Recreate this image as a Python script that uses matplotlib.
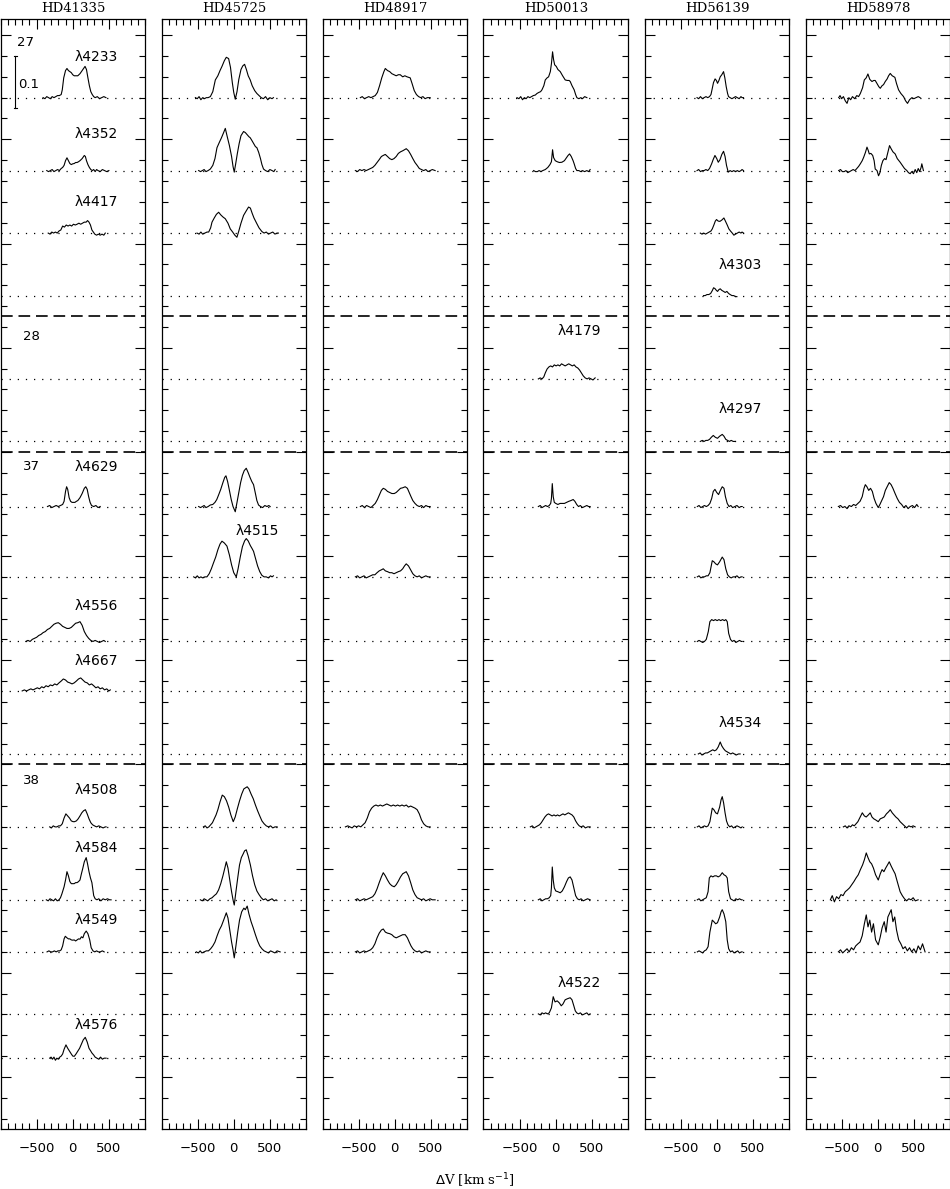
import matplotlib
matplotlib.use("Agg")
import matplotlib.pyplot as plt
from matplotlib.ticker import MultipleLocator

# ---- data: velocity (km/s) and line height above continuum (% of continuum) ----
stars = ["HD41335", "HD45725", "HD48917", "HD50013", "HD56139", "HD58978"]

# rows: line, multiplet group, baseline offset
row_lines = ["4233", "4352", "4417", "4303", "4179", "4297", "4629", "4515",
             "4556", "4667", "4534", "4508", "4584", "4549", "4522", "4576"]
row_base = [1.88, 1.74, 1.62, 1.50, 1.34, 1.22, 1.095, 0.96,
            0.836, 0.741, 0.62, 0.48, 0.34, 0.24, 0.121, 0.036]
group_names = ["27", "28", "37", "38"]
group_sep = [1.46, 1.20, 0.60]

hd41335 = {
    "4233": ([-410,-385,-360,-335,-310,-285,-260,-235,-210,-185,-160,-145,-125,-100,-80,-60,-40,-20,0,20,40,70,100,130,150,170,190,210,230,250,270,290,310,340,370,400,430,460],
             [0,-0.2,0.2,0,-0.2,0.2,0,0.2,0.4,0.4,0.6,1.5,3.8,5.2,5.6,5.2,5.0,4.8,4.4,4.2,4.2,4.2,4.6,5.2,5.6,6.0,5.4,3.8,2.3,1.15,0.6,0.2,0,0.2,-0.2,0,0.2,0]),
    "4352": ([-360,-335,-310,-285,-260,-235,-210,-185,-160,-140,-120,-100,-80,-60,-40,-20,0,20,40,60,80,100,130,160,175,190,210,230,250,270,290,310,330,350,380,410,440,470,500],
             [0,-0.2,0,0.2,-0.2,0,0.2,0,0.4,0.6,1.0,1.9,2.45,1.9,1.35,1.15,1.3,1.35,1.55,1.55,1.7,1.9,2.3,2.9,2.7,1.9,1.15,0.6,0.2,0,0.2,-0.2,0.2,0,-0.2,0.2,0,-0.2,0]),
    "4417": ([-340,-315,-290,-265,-240,-215,-190,-165,-140,-115,-90,-65,-40,-15,10,35,60,85,110,135,160,185,205,225,245,265,285,305,330,355,380,405,430,450],
             [0,-0.2,0.2,0,0.2,0,0.4,0.6,1.35,1.15,1.55,1.35,1.55,1.35,1.7,1.55,1.7,1.9,1.7,1.9,2.1,2.1,2.4,2.1,1.55,0.6,0.2,-0.2,-0.4,-0.2,-0.4,-0.2,-0.4,0]),
    "4629": ([-350,-320,-290,-260,-230,-200,-170,-140,-120,-100,-85,-70,-50,-30,-10,10,30,50,70,100,130,160,180,200,220,240,260,290,320,350,380],
             [0,0.2,-0.2,0,0.2,0,0.2,0.4,1.0,2.9,3.8,3.3,1.7,1.0,0.8,0.8,0.8,1.0,1.15,1.7,2.5,3.5,3.8,3.3,1.9,0.8,0.2,0,0.2,-0.2,0]),
    "4556": ([-650,-620,-590,-560,-530,-500,-470,-440,-410,-380,-350,-320,-290,-260,-230,-200,-170,-140,-110,-80,-50,-20,10,40,70,100,130,160,190,220,250,280,310,340,370,400,430,450],
             [0,0.2,0,0.4,0.6,0.8,1.15,1.35,1.7,1.9,2.3,2.5,2.9,3.3,3.5,3.6,3.3,2.9,2.7,2.5,2.5,2.7,3.1,3.5,3.6,3.8,3.1,1.9,1.15,0.6,0.2,0,0.2,0,-0.2,0,0.2,0]),
    "4667": ([-700,-670,-640,-610,-580,-550,-520,-490,-460,-430,-400,-370,-340,-310,-280,-250,-220,-190,-160,-130,-100,-70,-40,-10,20,50,80,110,140,170,200,230,260,290,320,350,380,410,440,470,500,520],
             [0,0.2,0,0.2,0.4,0.2,0.4,0.6,0.4,0.8,0.6,1.0,0.8,1.15,1.0,1.35,1.15,1.55,1.9,2.3,2.1,1.7,1.55,1.35,1.55,1.9,2.3,2.5,2.1,1.7,1.55,1.15,1.35,1.0,0.6,0.8,0.4,0.6,0.2,0.4,0,0.2]),
    "4508": ([-320,-295,-270,-245,-220,-195,-170,-145,-120,-95,-70,-45,-20,5,25,50,75,100,125,150,175,200,225,250,275,300,330,360,390,420,450,462],
             [0,-0.2,0.2,0,0,0.2,0.2,0.6,1.7,2.5,2.1,1.7,1.15,1.0,1.0,1.15,1.55,2.1,2.7,3.1,3.3,2.5,1.55,0.8,0.4,0.2,0,0.2,0,-0.2,0,0]),
    "4584": ([-366,-340,-315,-290,-265,-240,-215,-190,-170,-150,-120,-100,-80,-60,-40,-20,0,20,40,60,80,100,120,140,160,186,205,225,245,265,290,310,335,360,390,420,450,480,510,531],
             [0,-0.2,0.2,0,-0.2,0.2,-0.2,0,0.4,1.15,2.5,3.8,5.4,4.6,3.5,3.1,3.1,3.1,3.3,3.3,3.5,3.8,5.0,6.1,7.3,8.1,6.9,5.4,4.2,3.3,0.8,0.2,0,0.2,-0.2,0.2,0,0.2,0,0]),
    "4549": ([-356,-330,-305,-280,-255,-230,-205,-180,-160,-140,-120,-103,-80,-60,-40,-20,0,20,40,60,80,100,120,140,160,186,210,235,255,280,305,330,355,380,410,435],
             [0,0.2,0,0,0.2,0,0.2,0.2,0.4,1.15,2.5,3.0,2.7,2.5,2.5,2.3,2.25,2.3,2.1,2.3,2.5,2.45,2.9,2.7,3.5,4.0,3.5,2.3,0.8,0.2,0,0.2,0,0,0.2,0]),
    "4576": ([-320,-300,-280,-260,-240,-220,-200,-180,-160,-140,-120,-94,-70,-45,-20,0,21,45,70,95,120,145,173,200,225,250,265,290,310,334,360,385,410,435,462],
             [0,0.2,-0.2,0.2,-0.4,0,-0.2,0.2,0.4,0.8,1.7,2.55,1.9,1.35,0.8,0.4,0.35,0.8,1.35,1.9,2.7,3.5,4.0,3.1,1.9,1.35,1.0,0.6,0.2,0,-0.2,0.2,-0.2,0,0]),
}

hd45725 = {
    "4233": ([-531,-505,-480,-455,-430,-405,-380,-355,-324,-290,-255,-220,-190,-163,-130,-103,-71,-45,-20,0,21,45,70,100,125,150,175,200,228,255,290,320,350,380,410,440,470,500,530,549],
             [0,-0.2,0.2,-0.4,0,-0.2,0,0,0.2,1.15,3.4,4.2,5.2,6.0,7.1,7.75,7.5,5.8,2.9,1.0,-0.3,1.15,3.5,5.4,6.1,6.4,5.4,4.2,3.4,2.3,1.35,0.8,0.4,0,-0.2,0.2,-0.4,0,-0.2,0]),
    "4352": ([-486,-460,-435,-410,-385,-355,-324,-290,-260,-232,-200,-170,-140,-117,-90,-60,-30,-10,7,25,50,75,100,136,160,185,210,228,250,275,300,320,345,370,390,412,440,470,500,530,555,573],
             [0,-0.2,0,0.2,-0.2,0,0.3,1.0,2.3,4.4,5.4,6.3,7.3,8.1,6.5,4.8,2.7,0.8,-0.3,1.15,3.3,5.2,6.7,7.5,7.3,6.9,6.5,6.3,5.8,5.2,4.6,4.4,3.5,2.3,1.15,0.3,0,-0.2,0.2,0,-0.2,0.2]),
    "4417": ([-508,-480,-455,-430,-400,-370,-347,-320,-301,-270,-240,-209,-180,-150,-117,-80,-48,-15,15,44,70,100,136,170,205,230,255,280,320,350,389,420,450,480,510,540,570,600,618],
             [0,-0.2,0.2,-0.2,0,0.2,0.2,1.0,2.1,2.9,3.6,4.0,3.5,3.1,2.75,1.9,0.8,0.2,-0.4,-0.8,0.4,1.9,3.4,4.2,5.0,4.8,3.8,2.9,1.8,1.0,0.3,0,0.2,-0.2,0,0.2,-0.2,0,0]),
    "4629": ([-486,-460,-435,-410,-385,-355,-324,-290,-260,-235,-209,-180,-150,-125,-108,-85,-60,-35,-10,21,45,70,95,120,145,173,200,225,250,274,300,320,343,370,400,430,460,485,504],
             [0,-0.2,0,0.2,-0.2,0,0.3,0.4,0.8,1.35,2.25,3.3,4.6,5.6,5.9,4.8,3.1,1.35,0,-1.0,0.8,2.7,4.6,6.0,6.9,7.35,6.5,5.6,4.8,4.2,2.5,1.15,0.3,0,-0.2,0.2,0,0.2,0]),
    "4515": ([-555,-530,-505,-480,-455,-430,-400,-371,-340,-310,-280,-250,-220,-190,-163,-130,-94,-60,-30,0,35,60,90,120,150,173,200,230,255,274,300,330,360,389,420,450,480,510,530,549],
             [0,-0.2,0.2,-0.2,0,-0.2,0,0,0.6,1.55,2.7,3.8,5.2,6.3,6.85,6.5,5.9,4.2,2.3,0.8,0,1.55,3.8,5.8,6.9,7.35,6.9,6.0,5.4,4.9,3.6,2.1,1.0,0.3,0,0,-0.2,0.2,0,0.2]),
    "4508": ([-420,-395,-370,-345,-320,-295,-270,-245,-220,-190,-159,-130,-100,-70,-40,-7,20,50,80,110,140,186,210,240,270,300,330,360,390,420,450,480,510,540,570,600],
             [0,0.2,-0.2,0,0.4,0.8,1.55,2.3,3.3,4.8,6.1,5.8,5.0,3.8,2.3,1.0,1.9,3.5,5.0,6.3,7.3,7.7,7.3,6.3,5.4,4.2,3.1,2.1,1.15,0.6,0.2,0,0.2,-0.2,0,0]),
    "4584": ([-462,-435,-410,-385,-360,-330,-300,-270,-240,-210,-180,-150,-120,-103,-80,-55,-30,-10,7,30,55,80,105,130,150,173,200,230,260,290,320,350,380,410,440,470,500,530,560,586],
             [0,-0.2,0.2,0,-0.2,0.2,0.4,0.8,1.15,1.9,3.1,4.6,6.3,7.3,6.1,3.8,1.55,0,-1.0,1.55,4.2,6.7,8.1,8.8,9.4,9.6,8.4,6.7,4.6,2.9,1.7,1.0,0.4,0,0.2,-0.2,0,0.2,-0.2,0]),
    "4549": ([-517,-490,-465,-440,-410,-380,-350,-320,-290,-260,-230,-200,-170,-140,-103,-80,-55,-30,-10,7,30,55,80,110,140,160,186,210,240,270,300,330,360,390,420,450,480,510,540,570,600,642],
             [0,-0.2,0.2,-0.2,0,0.2,0.2,0.6,1.15,1.9,3.1,4.2,5.0,6.1,7.5,6.5,4.2,1.9,0.4,-1.15,1.15,3.8,6.1,7.7,8.4,8.1,8.8,7.3,5.8,4.6,3.3,2.1,1.15,0.6,0.2,0,-0.2,0.2,0,-0.2,0.2,0]),
}

hd48917 = {
    "4233": ([-476,-450,-420,-390,-360,-330,-300,-270,-240,-210,-180,-150,-131,-100,-70,-40,-10,20,50,76,110,140,170,214,240,270,300,330,360,390,420,450,490],
             [0,0.2,-0.2,0,0.2,0,0.2,0.4,1.0,2.3,3.8,5.0,5.6,5.2,5.0,4.6,4.4,4.2,4.4,4.4,4.0,4.2,4.0,3.8,2.7,1.35,0.6,0.2,0,0.2,-0.2,0,0]),
    "4352": ([-545,-515,-485,-455,-425,-395,-365,-335,-305,-275,-245,-215,-185,-160,-131,-100,-70,-40,-10,20,50,80,110,135,159,190,220,250,280,310,340,370,400,430,460,490,520,559],
             [0,-0.2,0.2,0,0.2,0,0.2,0.4,0.6,1.0,1.55,2.1,2.7,2.9,3.1,2.7,2.3,2.1,2.3,2.7,3.3,3.6,3.8,4.0,4.2,3.8,3.1,2.3,1.55,1.0,0.4,0.2,0,0.2,-0.2,0,0.2,0]),
    "4629": ([-476,-450,-420,-390,-360,-330,-300,-270,-240,-210,-185,-159,-130,-100,-70,-40,-7,20,50,80,110,145,175,200,225,250,280,310,340,370,400,430,460,490],
             [0,0.2,-0.2,0.2,0,-0.2,0.2,0.6,1.35,2.3,3.1,3.5,3.3,2.9,2.7,2.5,2.5,2.7,3.1,3.5,3.6,3.8,3.5,2.7,1.9,1.15,0.6,0.2,0,0.2,-0.2,0.2,0,0]),
    "4515": ([-545,-515,-485,-455,-425,-395,-365,-335,-305,-275,-245,-215,-185,-159,-130,-100,-70,-40,-10,20,50,80,110,135,159,190,220,250,280,310,340,370,400,430,460,490],
             [0,0.2,-0.2,0,0.2,-0.2,0,0.2,0.4,0.4,0.8,1.15,1.35,1.55,1.15,1.0,0.8,0.8,0.6,0.8,1.0,1.15,1.55,2.1,2.5,2.1,1.35,0.6,0.2,0,0.2,-0.2,0,0.2,0,0]),
    "4508": ([-683,-650,-620,-590,-560,-530,-500,-470,-440,-410,-380,-350,-320,-290,-260,-230,-200,-170,-140,-110,-80,-50,-20,10,40,70,100,130,160,190,220,250,280,310,340,370,400,430,460,490],
             [0,0.2,0,-0.2,0.2,0,0.2,0,0.4,0.8,1.7,2.9,3.6,4.0,4.2,4.0,4.2,4.0,4.2,4.4,4.2,4.0,4.2,4.0,4.2,4.0,4.2,4.0,4.2,3.8,4.0,3.8,3.6,3.3,2.5,1.35,0.6,0.2,0,0]),
    "4584": ([-545,-515,-485,-455,-425,-395,-365,-335,-305,-275,-245,-215,-185,-159,-130,-100,-70,-40,-7,20,50,80,110,135,159,190,220,250,280,310,340,370,400,430,460,490,520,559],
             [0,0.2,-0.2,0,0.2,0,0.2,0.4,0.6,1.15,2.1,3.3,4.4,5.2,4.6,3.8,3.1,2.7,2.5,2.9,3.6,4.4,5.0,5.2,5.4,4.6,3.3,1.9,1.0,0.4,0.2,0,0.2,-0.2,0,0.2,0,0]),
    "4549": ([-545,-515,-485,-455,-425,-395,-365,-335,-305,-275,-245,-215,-185,-159,-130,-100,-70,-40,-10,20,50,80,110,145,175,200,225,250,280,310,340,370,400,430,460,490],
             [0,0.2,-0.2,0,0.2,0,0.2,0.4,0.8,1.55,2.7,3.6,4.2,4.4,3.8,3.6,3.5,3.3,2.9,2.7,2.9,3.1,3.3,3.3,2.7,1.9,1.15,0.6,0.2,0,0.2,-0.2,0,0.2,0,0]),
}

hd50013 = {
    "4233": ([-536,-510,-485,-460,-435,-410,-385,-360,-335,-310,-283,-260,-235,-210,-191,-165,-145,-120,-99,-75,-60,-44,-30,-15,7,30,62,95,131,160,185,200,225,255,275,292,320,345,370,400,431],
             [0,-0.2,0.2,-0.4,0,-0.2,0.2,0,0.2,0.4,0.5,0.8,1.0,1.15,1.5,2.3,3.4,3.8,4.0,5.0,6.5,8.8,7.3,6.3,6.0,5.4,5.0,4.2,3.4,3.3,3.3,3.1,2.3,1.5,0.6,0,-0.2,0,-0.2,0.2,0]),
    "4352": ([-306,-280,-255,-230,-205,-180,-145,-110,-80,-60,-44,-30,-7,20,50,85,120,150,170,191,215,240,255,275,292,320,345,370,400,430,455,476],
             [0,-0.2,-0.2,0,-0.2,0,0.2,0.6,1.15,1.7,4.0,2.5,1.9,1.7,1.55,1.6,1.9,2.5,2.9,3.2,2.7,1.9,1.3,0.4,0,0,-0.2,0,-0.2,0,-0.2,0.2]),
    "4179": ([-241,-215,-190,-165,-145,-120,-95,-70,-45,-20,5,30,55,80,105,130,155,180,205,230,255,280,305,330,355,380,407,435,460,490,515,545],
             [0,0.2,0,0.4,1.15,1.9,2.3,2.5,2.3,2.7,2.5,2.7,2.5,2.9,2.7,2.5,2.7,2.9,2.7,2.5,2.7,2.3,2.1,1.7,1.15,0.6,0.2,0,0.2,0,-0.2,0.2]),
    "4629": ([-241,-215,-190,-165,-140,-115,-90,-70,-60,-48,-35,-20,0,30,60,90,120,150,180,210,241,265,290,315,340,370,400,430,455,476],
             [0,0.2,-0.2,0,0.2,0,0.2,0.6,1.55,4.4,1.9,0.8,0.6,0.4,0.6,0.6,0.6,0.8,1.0,1.15,1.35,1.0,0.4,0,0.2,-0.2,0,0.2,0,0]),
    "4508": ([-352,-325,-300,-275,-250,-225,-200,-175,-150,-125,-100,-75,-50,-25,0,25,50,75,100,125,150,175,200,225,250,275,300,325,350,380,410,440,476],
             [0,0.2,-0.2,0,0.2,0.4,0.8,1.35,1.9,2.3,2.5,2.3,2.1,2.3,2.1,2.3,2.1,2.3,2.5,2.3,2.5,2.7,2.5,2.3,1.9,1.15,0.6,0.2,0,0.2,-0.2,0,0]),
    "4584": ([-241,-215,-190,-165,-140,-115,-90,-70,-60,-48,-35,-20,0,30,62,90,120,150,175,200,225,250,275,300,325,350,380,410,440,476],
             [0,0.2,-0.2,0,0.2,0.2,0.4,0.8,2.3,6.3,3.8,2.3,1.7,1.55,1.35,1.7,2.5,3.5,4.2,4.4,3.8,2.3,0.8,0.2,0,0.2,-0.2,0,0.2,0]),
    "4522": ([-241,-215,-190,-165,-140,-115,-90,-60,-35,-10,20,50,76,100,130,160,200,225,250,270,290,315,340,370,400,430,455,476],
             [0,-0.2,0.2,0,0.2,0,0.2,1.15,3.3,2.3,2.5,2.1,1.55,1.9,2.7,2.9,3.1,2.7,1.55,0.6,0.2,0,0.2,-0.2,0,0.2,-0.2,0]),
}

hd56139 = {
    "4233": ([-273,-250,-225,-200,-175,-149,-125,-100,-80,-66,-45,-23,-5,11,30,48,70,94,112,131,150,163,185,210,235,260,285,310,335,350,370],
             [0,-0.2,0.2,-0.2,0,0.2,0,0.2,0.6,1.5,2.9,3.6,3.3,2.75,3.3,4.0,4.4,5.0,3.8,2.1,0.8,0.2,0,-0.2,0,0.2,0,-0.2,0.2,0,0]),
    "4352": ([-273,-250,-225,-200,-175,-150,-125,-100,-71,-50,-25,0,21,45,70,94,115,135,159,185,210,235,260,285,310,335,350,370],
             [0,0.2,-0.2,0,0,0.2,0,0.4,1.3,2.1,2.9,2.3,1.6,2.1,3.1,3.7,2.7,1.0,-0.3,0,-0.2,0,-0.2,0,-0.2,0,0.2,0]),
    "4417": ([-228,-205,-180,-155,-130,-105,-80,-62,-40,-20,-3,20,44,70,99,120,145,168,190,215,237,260,285,310,335,350,370],
             [0,-0.2,0,-0.2,0,0.2,0.4,0.8,1.55,2.3,2.6,2.3,2.25,2.5,2.9,2.3,1.55,0.8,0.4,0,-0.4,-0.2,0,0.2,0,0.2,0]),
    "4303": ([-182,-160,-135,-110,-85,-60,-44,-25,-5,11,30,48,70,95,117,140,165,186,210,235,260,279],
             [0,0,0.2,0.2,0.4,1.0,1.5,1.35,1.0,0.8,1.15,1.3,1.0,0.8,0.6,0.8,0.4,0.2,0,0,-0.2,-0.2]),
    "4297": ([-228,-200,-175,-150,-125,-100,-75,-48,-20,10,40,76,100,125,150,175,200,228,255],
             [0,0.2,0,0.2,0.2,0.4,0.8,1.15,0.8,0.6,1.0,1.35,1.0,0.4,0.2,0,0.2,0,0]),
    "4629": ([-269,-245,-220,-195,-170,-145,-120,-95,-70,-48,-25,0,25,50,76,100,120,145,170,195,220,250,280,310,335,352],
             [0,0.2,-0.2,0,0.2,0,0.2,0.6,1.55,2.9,3.3,2.7,2.3,3.1,3.8,3.5,1.9,0.6,0,0.2,-0.2,0,0.2,-0.2,0,0]),
    "4515": ([-269,-245,-220,-195,-170,-145,-120,-95,-62,-40,-15,10,40,76,100,125,150,175,200,225,255,280,310,335,352],
             [0,0.2,-0.2,0,0,0.2,0.2,0.8,3.1,2.9,2.5,2.3,2.9,3.8,3.3,1.55,0.4,0,-0.2,0,0,0.2,-0.2,0,0]),
    "4556": ([-269,-245,-220,-195,-170,-145,-117,-95,-70,-45,-20,5,30,55,80,105,125,145,165,190,215,240,265,290,315,340,352],
             [0,0.2,0,-0.2,0,0.4,1.9,3.8,4.2,4.0,4.2,4.0,4.2,4.0,4.2,4.0,4.2,3.8,1.55,0.4,0,0.2,-0.2,0,0.2,0,0]),
    "4534": ([-255,-230,-205,-180,-155,-130,-105,-80,-55,-30,-5,20,48,70,95,120,145,170,195,220,245,270,300,324],
             [0,0.2,-0.2,0,0.2,0.2,0.4,0.6,0.8,0.6,0.8,1.35,2.3,1.55,1.0,0.6,0.4,0.2,0,0.2,0,-0.2,0,0]),
    "4508": ([-269,-245,-220,-195,-170,-145,-120,-95,-62,-40,-15,10,40,60,76,95,115,135,155,180,205,230,255,280,310,335,352],
             [0,0.2,-0.2,0,0.2,0,0.2,1.0,3.6,3.3,2.7,2.5,3.8,5.2,5.8,4.6,2.7,1.15,0.4,0,0.2,-0.2,0,0.2,0,-0.2,0]),
    "4584": ([-269,-245,-220,-195,-170,-145,-120,-103,-80,-55,-30,-5,20,45,76,100,125,145,165,190,215,240,265,290,315,340,352],
             [0,0.2,-0.2,0,0.2,0.4,1.55,4.2,4.6,4.4,4.6,4.6,4.4,4.6,5.2,4.8,4.6,4.2,1.55,0.2,0,-0.2,0.2,0,0.2,0,0]),
    "4549": ([-269,-245,-220,-195,-170,-145,-120,-95,-62,-40,-15,10,40,60,76,100,125,145,165,190,215,240,265,290,315,340,352],
             [0,0.2,0,-0.2,0.2,0.4,1.0,3.8,6.1,5.8,5.4,5.6,6.7,7.7,8.1,7.3,5.8,2.3,0.6,0,0.2,-0.2,0,0.2,-0.2,0,0]),
}

hd58978 = {
    "4233": ([-541,-522,-500,-475,-450,-425,-400,-375,-350,-320,-290,-265,-241,-210,-186,-160,-136,-110,-80,-55,-35,-10,15,35,60,80,104,130,150,173,200,237,260,288,320,357,385,412,440,472,500,530,560,586],
             [0,0.4,-0.2,0.2,-0.6,-1.1,0,-0.4,0.2,-0.2,0.4,0.2,0.8,1.9,3.4,3.8,4.55,3.5,3.1,3.3,3.3,2.7,2.1,1.8,2.3,2.5,3.1,3.6,4.2,4.65,4.2,3.9,2.7,1.5,0.8,0.2,-0.6,-1.1,-0.4,0,-0.2,0,0.2,0]),
    "4352": ([-541,-515,-490,-465,-440,-415,-390,-365,-340,-315,-290,-265,-241,-215,-195,-170,-149,-130,-117,-95,-70,-50,-35,-10,11,30,50,71,95,115,140,163,185,210,241,270,310,340,370,403,425,449,470,495,518,540,560,580,600,610,632],
             [0,0.2,-0.2,-0.2,0,-0.4,-0.2,0,0.2,0,0.4,0.8,1.3,1.9,2.55,3.5,4.5,3.8,3.2,3.3,2.9,1.9,0.3,0,-1.0,-0.4,1.0,1.9,2.3,2.1,3.5,4.8,4.2,3.6,3.2,2.3,1.6,1.0,0.4,0,-0.4,-0.6,-0.2,-0.6,0.2,-0.4,0.4,-0.2,0.6,1.3,0]),
    "4629": ([-545,-515,-485,-455,-425,-395,-365,-335,-305,-275,-245,-215,-190,-172,-150,-125,-100,-75,-50,-25,7,30,55,80,105,130,159,185,210,240,270,300,330,360,390,420,450,480,510,540,559],
             [0,0.2,-0.2,0,-0.4,0.2,0,0.4,0.2,0.6,1.0,1.9,3.5,4.2,3.8,3.1,3.5,2.9,1.55,0.6,-0.2,0.4,1.15,1.9,3.1,3.8,4.6,4.2,3.5,2.5,1.55,0.8,0.4,-0.2,0.2,-0.4,0,0.2,-0.2,0.4,0]),
    "4508": ([-476,-450,-425,-400,-375,-350,-325,-300,-275,-250,-214,-185,-160,-130,-104,-80,-55,-30,7,35,60,90,120,150,173,200,225,250,280,310,340,370,400,430,460,490,518],
             [0,0.2,-0.2,0.2,0,0.4,0.2,0.6,1.0,1.7,2.7,2.1,1.9,2.3,2.7,1.9,1.55,1.35,1.0,1.55,1.7,1.9,2.5,2.9,3.3,2.7,2.3,1.9,1.55,1.0,0.6,0.2,-0.2,0.2,0,0.2,0]),
    "4584": ([-656,-630,-600,-570,-540,-510,-480,-450,-420,-390,-360,-330,-300,-270,-240,-210,-185,-159,-135,-110,-85,-60,-30,7,35,60,85,110,135,159,185,210,240,270,310,340,370,400,430,460,490,520,559],
             [0,0.8,-0.4,0.6,0.2,1.0,0.8,1.55,1.9,2.3,2.9,3.5,4.2,4.8,5.8,6.7,7.7,9.0,8.1,7.3,6.9,6.1,4.8,3.8,5.0,5.8,5.4,6.1,6.7,7.3,6.5,5.8,5.0,3.5,1.55,0.8,0.2,-0.2,0.2,0,0.4,-0.2,0]),
    "4549": ([-545,-515,-485,-455,-425,-395,-365,-335,-305,-275,-245,-215,-185,-159,-135,-110,-85,-60,-30,7,35,60,90,115,140,160,186,210,235,260,290,320,350,380,410,440,470,500,530,560,590,620,655],
             [0,0.4,-0.2,0.2,0.6,0,0.8,0.4,1.15,1.55,1.9,3.1,5.4,7.1,4.8,6.1,3.8,5.4,2.3,1.35,2.9,4.6,5.8,3.8,6.7,7.3,8.1,5.8,6.7,4.2,2.3,1.55,0.6,1.0,0.2,0.8,0,0.6,-0.2,1.15,0.4,1.55,0]),
}

star_data = [hd41335, hd45725, hd48917, hd50013, hd56139, hd58978]

# line labels: (panel index, line, label height)
labels = [(0, "4233", 1.959), (0, "4352", 1.811), (0, "4417", 1.680), (4, "4303", 1.559),
          (3, "4179", 1.432), (4, "4297", 1.282), (0, "4629", 1.171), (1, "4515", 1.049),
          (0, "4556", 0.904), (0, "4667", 0.798), (4, "4534", 0.679), (0, "4508", 0.550),
          (0, "4584", 0.439), (0, "4549", 0.301), (3, "4522", 0.180), (0, "4576", 0.100)]
group_pos = [(-766, 1.985), (-692, 1.421), (-692, 1.172), (-692, 0.570)]

# ---- figure ----
W, H = 950, 1189
fig = plt.figure(figsize=(W / 100, H / 100), dpi=100)
plt.rcParams['font.family'] = 'DejaVu Sans'

top_px, bot_px = 19, 1129
for i, star in enumerate(stars):
    left = (0.5 + 161 * i) / W
    ax = fig.add_axes([left, (H - bot_px) / H, 144.5 / W, (bot_px - top_px) / H])
    ax.set_xlim(-1000, 1000)
    ax.set_ylim(-0.1, 2.031)

    for b in row_base:
        ax.axhline(b, color='black', lw=0.9, dashes=(1, 5.5))
    for s in group_sep:
        ax.axhline(s, color='black', lw=1.2, dashes=(7, 3.5))

    base = dict(zip(row_lines, row_base))
    for line, (v, h) in star_data[i].items():
        ax.plot(v, [base[line] + x / 100.0 for x in h], color='black', lw=0.8)

    for (p, line, yl) in labels:
        if p == i:
            ax.text(20, yl, "λ" + line, ha='left', va='center', fontsize=10)

    ax.xaxis.set_major_locator(MultipleLocator(500))
    ax.xaxis.set_minor_locator(MultipleLocator(100))
    ax.yaxis.set_major_locator(MultipleLocator(0.2))
    ax.yaxis.set_minor_locator(MultipleLocator(0.04))
    ax.tick_params(which='both', direction='in', top=True, right=True,
                   labelleft=False, width=0.8, labelsize=9.5, pad=9)
    ax.tick_params(which='major', length=7)
    ax.tick_params(which='minor', length=4)
    ax.set_xticks([-500, 0, 500])
    for sp in ax.spines.values():
        sp.set_linewidth(0.9)

    fig.text((left * W + 72.5) / W, 1 - 8 / H, star, ha='center', va='center',
             fontsize=9.5, family='DejaVu Serif')

    if i == 0:
        for (gx, gy), g in zip(group_pos, group_names):
            ax.text(gx, gy, g, ha='left', va='center', fontsize=9.5)
        ax.plot([-794, -794], [1.86, 1.96], color='black', lw=0.8)
        ax.plot([-815, -773], [1.86, 1.86], color='black', lw=0.8)
        ax.plot([-815, -773], [1.96, 1.96], color='black', lw=0.8)
        ax.text(-752, 1.906, "0.1", ha='left', va='center', fontsize=9.5)

fig.text(475 / W, 1 - 1181 / H, r"$\Delta$V [km s$^{-1}$]", ha='center', va='center',
         fontsize=9.5, family='DejaVu Serif')

fig.savefig("out.png", dpi=100)
